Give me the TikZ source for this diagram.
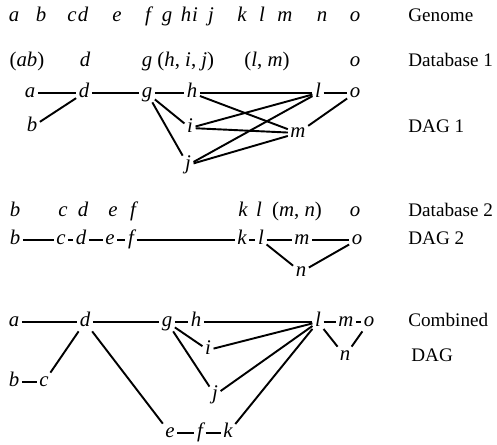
\documentclass[tikz,border=0pt]{standalone}
\usepackage{fontspec}
\setmainfont{Liberation Serif}
\usetikzlibrary{positioning}

\begin{document}
\begin{tikzpicture}[x=0.6pt, y=-0.6pt, font=\fontsize{11.5}{14}\selectfont,
  v/.style={font=\fontsize{12.5}{14}\selectfont\itshape, inner sep=1.4pt,
            text height=1.5ex, text depth=0.25ex},
  set/.style={font=\fontsize{12.5}{14}\selectfont, inner sep=1pt,
              text height=1.5ex, text depth=0.25ex},
  lbl/.style={anchor=west, inner sep=0pt, text height=1.5ex, text depth=0.25ex},
  edge/.style={line width=1.15pt}
]
  \useasboundingbox (0,0) rectangle (497,444);

  % genome order
  \foreach \n/\x in {a/14, b/41, c/72, d/83, e/117, f/148, g/167, h/186,
                     i/195, j/211, k/242, l/262, m/285, n/322, o/355}
    \node[v] (ge\n) at (\x,17) {\n};
  \node[lbl] (lgen) at (408,17) {Genome};

  % database 1
  \node[set] (s1ab) at (27,62)  {(\textit{ab})};
  \node[set] (s1d)  at (85,62)  {\textit{d}};
  \node[set] (s1g)  at (178,62) {\textit{g} (\textit{h}, \textit{i}, \textit{j})};
  \node[set] (s1l)  at (267,62) {(\textit{l}, \textit{m})};
  \node[set] (s1o)  at (355,62) {\textit{o}};
  \node[lbl] (ldb1) at (408,62) {Database 1};

  % DAG 1
  \node[v] (a1) at (30,93)   {a};
  \node[v] (d1) at (84,93)   {d};
  \node[v] (g1) at (147,93)  {g};
  \node[v] (h1) at (192,93)  {h};
  \node[v] (l1) at (318,93)  {l};
  \node[v] (o1) at (355,93)  {o};
  \node[v] (b1) at (32,127)  {b};
  \node[v] (i1) at (190,128) {i};
  \node[v] (m1) at (298,133) {m};
  \node[v] (j1) at (188,165) {j};
  \node[lbl] (ldag1) at (408,128) {DAG 1};
  \draw[edge] (a1) -- (d1);
  \draw[edge] (b1) -- (d1);
  \draw[edge] (d1) -- (g1);
  \draw[edge] (g1) -- (h1);
  \draw[edge] (g1) -- (i1);
  \draw[edge] (g1) -- (j1);
  \draw[edge] (h1) -- (l1);
  \draw[edge] (h1) -- (m1);
  \draw[edge] (i1) -- (l1);
  \draw[edge] (i1) -- (m1);
  \draw[edge] (j1) -- (l1);
  \draw[edge] (j1) -- (m1);
  \draw[edge] (l1) -- (o1);
  \draw[edge] (m1) -- (o1);

  % database 2
  \foreach \n/\x in {b/15, c/63, d/83, e/113, f/133, k/243, l/259, o/355}
    \node[v] (s2\n) at (\x,212) {\n};
  \node[set] (s2m) at (297,212) {(\textit{m}, \textit{n})};
  \node[lbl] (ldb2) at (408,212) {Database 2};

  % DAG 2
  \node[v] (b2) at (15,240)  {b};
  \node[v] (c2) at (61,240)  {c};
  \node[v] (d2) at (81,240)  {d};
  \node[v] (e2) at (110,240) {e};
  \node[v] (f2) at (131,240) {f};
  \node[v] (k2) at (242,240) {k};
  \node[v] (l2) at (261,240) {l};
  \node[v] (m2) at (302,240) {m};
  \node[v] (o2) at (357,240) {o};
  \node[v] (n2) at (301,272) {n};
  \node[lbl] (ldag2) at (408,240) {DAG 2};
  \draw[edge] (b2) -- (c2);
  \draw[edge] (c2) -- (d2);
  \draw[edge] (d2) -- (e2);
  \draw[edge] (e2) -- (f2);
  \draw[edge] (f2) -- (k2);
  \draw[edge] (k2) -- (l2);
  \draw[edge] (l2) -- (m2);
  \draw[edge] (m2) -- (o2);
  \draw[edge] (l2) -- (n2);
  \draw[edge] (n2) -- (o2);

  % combined DAG
  \node[v] (a3) at (14,322)  {a};
  \node[v] (d3) at (85,322)  {d};
  \node[v] (g3) at (167,322) {g};
  \node[v] (h3) at (196,322) {h};
  \node[v] (l3) at (318,322) {l};
  \node[v] (m3) at (346,322) {m};
  \node[v] (o3) at (369,322) {o};
  \node[v] (i3) at (208,350) {i};
  \node[v] (n3) at (345,356) {n};
  \node[v] (b3) at (14,382)  {b};
  \node[v] (c3) at (44,382)  {c};
  \node[v] (j3) at (215,395) {j};
  \node[v] (e3) at (170,433) {e};
  \node[v] (f3) at (200,433) {f};
  \node[v] (k3) at (228,433) {k};
  \node[lbl] (lcomb) at (408,322) {Combined};
  \node[lbl] (ldag3) at (411,357) {DAG};
  \draw[edge] (a3) -- (d3);
  \draw[edge] (d3) -- (g3);
  \draw[edge] (g3) -- (h3);
  \draw[edge] (h3) -- (l3);
  \draw[edge] (l3) -- (m3);
  \draw[edge] (m3) -- (o3);
  \draw[edge] (d3) -- (c3);
  \draw[edge] (b3) -- (c3);
  \draw[edge] (d3) -- (e3);
  \draw[edge] (e3) -- (f3);
  \draw[edge] (f3) -- (k3);
  \draw[edge] (g3) -- (i3);
  \draw[edge] (g3) -- (j3);
  \draw[edge] (i3) -- (l3);
  \draw[edge] (j3) -- (l3);
  \draw[edge] (k3) -- (l3);
  \draw[edge] (l3) -- (n3);
  \draw[edge] (n3) -- (o3);
\end{tikzpicture}
\end{document}
